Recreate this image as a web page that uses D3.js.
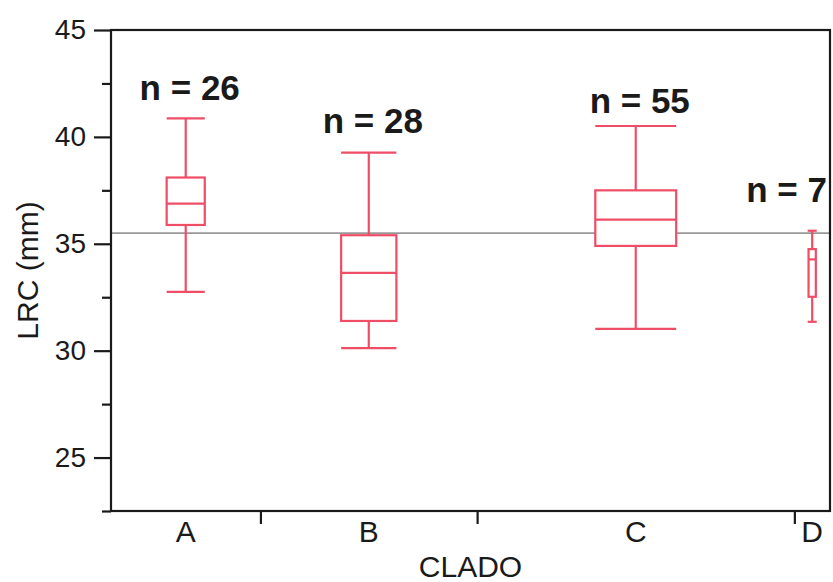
<!DOCTYPE html>
<html>
<head>
<meta charset="utf-8">
<script src="https://cdn.jsdelivr.net/npm/d3@7"></script>
<style>
  body { margin: 0; background: #fff; }
  text { font-family: "Liberation Sans", Arial, sans-serif; fill: #1a1a1a; }
</style>
</head>
<body>
<div id="chart"></div>
<script>
// Data
var clados = ["A", "B", "C", "D"];
var counts = [26, 28, 55, 7];
var whiskerLow = [32.75, 30.12, 31.02, 31.35];
var q1 = [35.88, 31.39, 34.90, 32.52];
var median = [36.88, 33.64, 36.13, 34.27];
var q3 = [38.10, 35.40, 37.50, 34.75];
var whiskerHigh = [40.87, 39.26, 40.51, 35.61];
// width share of each clado on the x axis (proportional axis)
var groupWeight = [26, 37.7, 55.2, 6.2];
var refLine = 35.5;
var yMajor = [25, 30, 35, 40, 45];
var yMinor = [22.5, 27.5, 32.5, 37.5, 42.5];

// Layout
var margin = { top: 30, right: 3, bottom: 71, left: 111 };
var svgW = 833, svgH = 582;
var w = svgW - margin.left - margin.right;
var h = svgH - margin.top - margin.bottom;
var boxColor = "#ef4d66";
var nLabelLevel = [41.72, 40.17, 41.13, 36.96];

var data = clados.map(function (c, i) {
  return { clado: c, n: counts[i], lo: whiskerLow[i], q1: q1[i], med: median[i],
           q3: q3[i], hi: whiskerHigh[i], weight: groupWeight[i], label: nLabelLevel[i] };
});
var start = 0;
data.forEach(function (d) { d.x0 = start; start += d.weight; d.x1 = start; });

var svg = d3.select("#chart").append("svg")
  .attr("width", svgW)
  .attr("height", svgH);

var g = svg.append("g")
  .attr("transform", "translate(" + margin.left + "," + margin.top + ")");

// Scales
var x = d3.scaleLinear().domain([0, start]).range([0, w]);
var y = d3.scaleLinear().domain([22.5, 45]).range([h, 0]);

// Reference line
g.append("line")
  .attr("x1", 0).attr("x2", w)
  .attr("y1", y(refLine)).attr("y2", y(refLine))
  .attr("stroke", "#999").attr("stroke-width", 1.6);

// Y axis major + minor
var yAxisG = g.append("g").attr("class", "yaxis")
  .call(d3.axisLeft(y).tickValues(yMajor).tickSize(17).tickPadding(8).tickFormat(d3.format("d")));
var yMinorG = g.append("g")
  .call(d3.axisLeft(y).tickValues(yMinor).tickSize(9).tickFormat(""));
[yAxisG, yMinorG].forEach(function (a) {
  a.select(".domain").remove();
  a.selectAll("line").attr("stroke", "#1a1a1a").attr("stroke-width", 2.2);
});
yAxisG.selectAll("text")
  .style("font-size", "28px")
  .attr("fill", "#1a1a1a");

// X axis: ticks at group boundaries
var xAxisG = g.append("g")
  .attr("transform", "translate(0," + h + ")")
  .call(d3.axisBottom(x).tickValues(data.slice(0, -1).map(function (d) { return d.x1; }))
    .tickSize(13).tickFormat(""));
xAxisG.select(".domain").remove();
xAxisG.selectAll("line").attr("stroke", "#1a1a1a").attr("stroke-width", 2.2);

// Category labels
g.selectAll(".cat")
  .data(data)
  .enter()
  .append("text")
  .attr("class", "cat")
  .attr("x", function (d) { return x((d.x0 + d.x1) / 2); })
  .attr("y", h + 31)
  .attr("text-anchor", "middle")
  .style("font-size", "30px")
  .text(function (d) { return d.clado; });

// Frame
g.append("rect")
  .attr("width", w).attr("height", h)
  .attr("fill", "none")
  .attr("stroke", "#1a1a1a")
  .attr("stroke-width", 2.2);

// Boxes
var boxes = g.selectAll(".box")
  .data(data)
  .enter()
  .append("g")
  .attr("class", "box")
  .attr("stroke", boxColor)
  .attr("stroke-width", 2.2)
  .attr("fill", "none");

function cx(d) { return x((d.x0 + d.x1) / 2); }
function bw(d) { return Math.max(8, (x(d.x1) - x(d.x0)) * 0.255); }
function boxW(d) { return bw(d) * (d.weight < 10 ? 0.8 : 1); }

boxes.append("line") // whisker
  .attr("x1", cx).attr("x2", cx)
  .attr("y1", function (d) { return y(d.lo); })
  .attr("y2", function (d) { return y(d.hi); });
boxes.append("rect")
  .attr("x", function (d) { return cx(d) - boxW(d) / 2; })
  .attr("width", boxW)
  .attr("y", function (d) { return y(d.q3); })
  .attr("height", function (d) { return y(d.q1) - y(d.q3); })
  .attr("fill", "#fff");
boxes.append("line") // median
  .attr("x1", function (d) { return cx(d) - boxW(d) / 2; })
  .attr("x2", function (d) { return cx(d) + boxW(d) / 2; })
  .attr("y1", function (d) { return y(d.med); })
  .attr("y2", function (d) { return y(d.med); });
["lo", "hi"].forEach(function (k) {
  boxes.append("line") // caps
    .attr("x1", function (d) { return cx(d) - bw(d) / 2; })
    .attr("x2", function (d) { return cx(d) + bw(d) / 2; })
    .attr("y1", function (d) { return y(d[k]); })
    .attr("y2", function (d) { return y(d[k]); });
});

// n labels
g.selectAll(".nlab")
  .data(data)
  .enter()
  .append("text")
  .attr("class", "nlab")
  .attr("x", function (d, i) { return i === data.length - 1 ? w - 3 : cx(d) + 4; })
  .attr("y", function (d) { return y(d.label); })
  .attr("text-anchor", function (d, i) { return i === data.length - 1 ? "end" : "middle"; })
  .style("font-size", "35px")
  .style("font-weight", "bold")
  .text(function (d) { return "n = " + d.n; });

// Axis titles
svg.append("text")
  .attr("transform", "translate(38," + (margin.top + h / 2) + ") rotate(-90)")
  .attr("text-anchor", "middle")
  .style("font-size", "30px")
  .text("LRC (mm)");

svg.append("text")
  .attr("x", margin.left + w / 2)
  .attr("y", 577)
  .attr("text-anchor", "middle")
  .style("font-size", "30px")
  .text("CLADO");
</script>
</body>
</html>
